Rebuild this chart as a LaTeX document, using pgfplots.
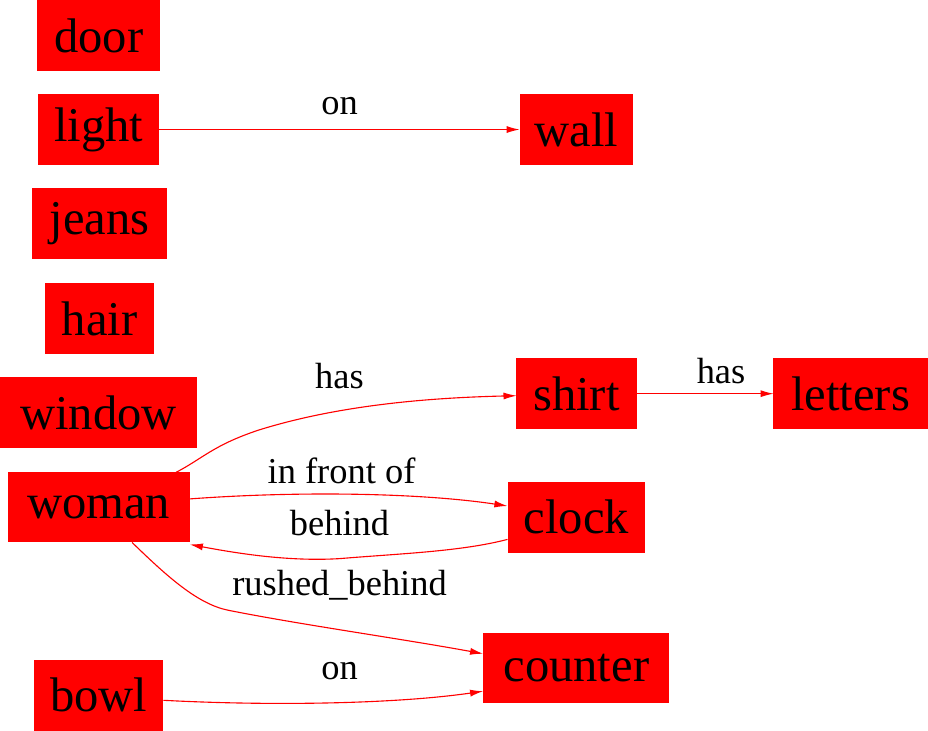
\documentclass[border=0pt]{standalone}
\usepackage{pgfplots}
\pgfplotsset{compat=1.18}
\usepackage{fontspec}
\setmainfont{Liberation Serif}
\usetikzlibrary{arrows.meta}
\begin{document}
\begin{tikzpicture}[
  box/.style={fill=red,inner sep=0pt,minimum height=70pt,font=\fontsize{48}{50}\selectfont},
  lab/.style={font=\fontsize{36}{38}\selectfont},
  edge/.style={red,line width=1.1pt,-{Latex[length=13pt,width=7pt]}}]
\begin{axis}[width=928pt,height=733pt,scale only axis,hide axis,clip=false,
  xmin=0,xmax=928,ymin=0,ymax=733,y dir=reverse]
\node[box,minimum width=122pt] at (axis cs:102,40) {door};
\node[box,minimum width=120pt] at (axis cs:102,133) {light};
\node[box,minimum width=134pt] at (axis cs:103,226) {jeans};
\node[box,minimum width=108pt] at (axis cs:103,320) {hair};
\node[box,minimum width=195pt] at (axis cs:102,413) {window};
\node[box,minimum width=180pt] at (axis cs:102,506) {woman};
\node[box,minimum width=128pt] at (axis cs:102,692) {bowl};
\node[box,minimum width=112pt] at (axis cs:574,133) {wall};
\node[box,minimum width=119pt] at (axis cs:574,394) {shirt};
\node[box,minimum width=136pt] at (axis cs:574,516) {clock};
\node[box,minimum width=184pt] at (axis cs:574,665) {counter};
\node[box,minimum width=153pt] at (axis cs:845,394) {letters};
% edges
\draw[edge] (axis cs:162,133) -- (axis cs:518,133);
\node[lab] at (axis cs:340,110) {on};
\draw[edge] (axis cs:178,472) .. controls (axis cs:205,458) and (axis cs:215,445) .. (axis cs:260,430) .. controls (axis cs:340,405) and (axis cs:430,398) .. (axis cs:515,396);
\node[lab] at (axis cs:340,377) {has};
\draw[edge] (axis cs:634,394) -- (axis cs:769,394);
\node[lab] at (axis cs:717,372) {has};
\draw[edge] (axis cs:192,498) .. controls (axis cs:300,490) and (axis cs:420,492) .. (axis cs:506,505);
\node[lab] at (axis cs:342,470) {in front of};
\draw[edge] (axis cs:506,538) .. controls (axis cs:460,550) and (axis cs:400,552) .. (axis cs:340,557) .. controls (axis cs:290,560) and (axis cs:240,552) .. (axis cs:192,543);
\node[lab] at (axis cs:340,522) {behind};
\draw[edge] (axis cs:135,541) .. controls (axis cs:170,575) and (axis cs:200,602) .. (axis cs:230,608) .. controls (axis cs:300,622) and (axis cs:400,636) .. (axis cs:482,651);
\node[lab] at (axis cs:340,583) {rushed\_behind};
\draw[edge] (axis cs:166,697) .. controls (axis cs:280,703) and (axis cs:400,700) .. (axis cs:482,688);
\node[lab] at (axis cs:340,668) {on};
\end{axis}
\end{tikzpicture}
\end{document}
